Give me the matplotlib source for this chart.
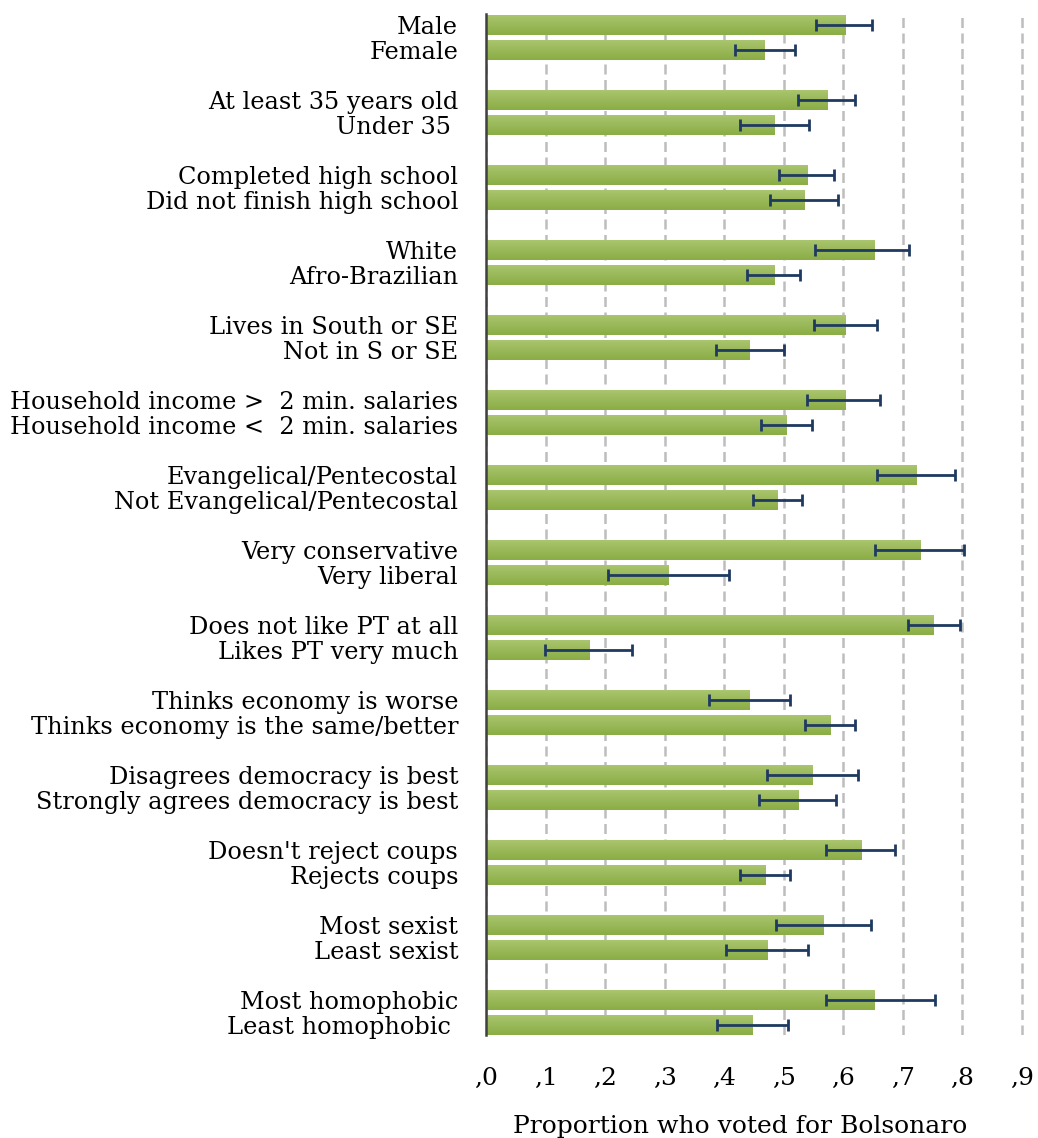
import matplotlib
matplotlib.use("Agg")
import matplotlib.pyplot as plt
import numpy as np
from matplotlib.colors import LinearSegmentedColormap

plt.rcParams['font.family'] = ['DejaVu Serif']

labels = [
    "Male", "Female",
    "At least 35 years old", "Under 35 ",
    "Completed high school", "Did not finish high school",
    "White", "Afro-Brazilian",
    "Lives in South or SE", "Not in S or SE",
    "Household income >  2 min. salaries", "Household income <  2 min. salaries",
    "Evangelical/Pentecostal", "Not Evangelical/Pentecostal",
    "Very conservative", "Very liberal",
    "Does not like PT at all", "Likes PT very much",
    "Thinks economy is worse", "Thinks economy is the same/better",
    "Disagrees democracy is best", "Strongly agrees democracy is best",
    "Doesn't reject coups", "Rejects coups",
    "Most sexist", "Least sexist",
    "Most homophobic", "Least homophobic ",
]
share = [0.603, 0.468, 0.573, 0.485, 0.539, 0.534, 0.653, 0.484,
         0.603, 0.443, 0.603, 0.504, 0.722, 0.490, 0.729, 0.307,
         0.752, 0.173, 0.443, 0.578, 0.549, 0.524, 0.630, 0.470,
         0.567, 0.472, 0.653, 0.448]
ci_low = [0.554, 0.418, 0.524, 0.426, 0.492, 0.477, 0.552, 0.438,
          0.551, 0.386, 0.539, 0.462, 0.656, 0.448, 0.653, 0.205,
          0.709, 0.099, 0.374, 0.536, 0.472, 0.458, 0.571, 0.426,
          0.487, 0.403, 0.571, 0.388]
ci_high = [0.648, 0.519, 0.620, 0.542, 0.584, 0.591, 0.710, 0.527,
           0.656, 0.500, 0.662, 0.547, 0.787, 0.531, 0.803, 0.408,
           0.796, 0.245, 0.510, 0.620, 0.625, 0.588, 0.687, 0.510,
           0.646, 0.541, 0.754, 0.507]
xticks = [0.0, 0.1, 0.2, 0.3, 0.4, 0.5, 0.6, 0.7, 0.8, 0.9]
xtick_labels = [",0", ",1", ",2", ",3", ",4", ",5", ",6", ",7", ",8", ",9"]

share = np.array(share)
err = np.array([share - np.array(ci_low), np.array(ci_high) - share])

# pairs of bars, with an empty slot between each pair
ypos = np.array([(i // 2) * 3 + (i % 2) for i in range(len(labels))])

fig = plt.figure(figsize=(10.38, 11.38), dpi=100)
ax = fig.add_axes([0.4682, 0.0905, 0.5193, 0.8972])

bars = ax.barh(ypos, share, height=0.8, color='#9bbb59', zorder=2)

# light-to-dark vertical fill inside each bar
green = LinearSegmentedColormap.from_list('grn', ['#abc670', '#8aad45'])
grad = np.linspace(0, 1, 64).reshape(-1, 1)
for b in bars:
    x0, y0, w, h = b.get_x(), b.get_y(), b.get_width(), b.get_height()
    im = ax.imshow(grad, extent=(x0, x0 + w, y0 + h, y0), origin='upper',
                   aspect='auto', cmap=green, zorder=2.1, interpolation='bilinear')
    im.set_clip_path(b)

ax.errorbar(share, ypos, xerr=err, fmt='none', ecolor='#1f3a60',
            elinewidth=2, capsize=4.3, capthick=2, zorder=3)

ax.set_xlim(0, 0.905)
ax.set_ylim(40.4, -0.44)
ax.set_xticks(xticks)
ax.set_xticklabels(xtick_labels, fontsize=18)
ax.set_yticks(ypos)
ax.set_yticklabels(labels, fontsize=17.3)
ax.tick_params(axis='both', length=0)
ax.tick_params(axis='x', pad=23)
ax.tick_params(axis='y', pad=20)

ax.grid(axis='x', color='#bdbdbd', linewidth=1.8, linestyle=(0, (4, 2.2)), zorder=1)
ax.set_axisbelow(True)
for s in ['top', 'right', 'bottom']:
    ax.spines[s].set_visible(False)
ax.spines['left'].set_color('#404040')
ax.spines['left'].set_linewidth(1.8)
ax.spines['left'].set_zorder(4)

ax.set_xlabel("Proportion who voted for Bolsonaro", fontsize=18, labelpad=15)
ax.xaxis.set_label_coords(0.471, -0.078)

fig.savefig("out.png", dpi=100)
